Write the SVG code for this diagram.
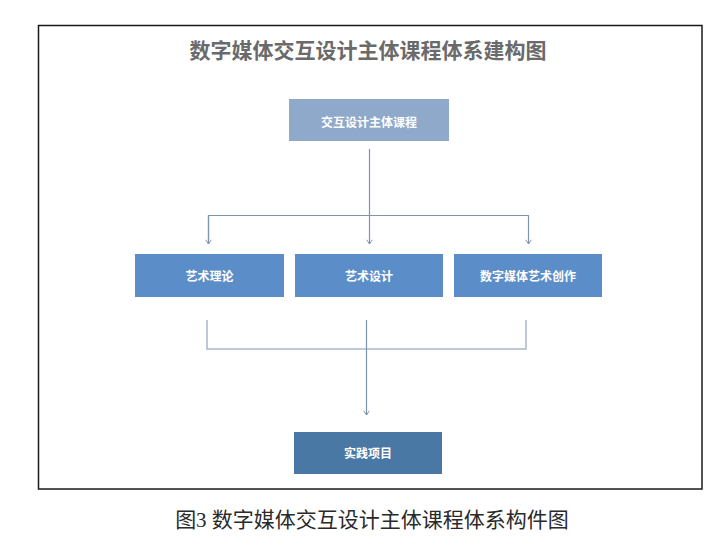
<svg xmlns="http://www.w3.org/2000/svg" width="724" height="547" viewBox="0 0 724 547">
<style>
.box-text{font-family:"Noto Sans CJK SC","Liberation Sans",sans-serif;font-size:12px;font-weight:bold;fill:#ffffff;text-anchor:middle}
.title{font-family:"Noto Sans CJK SC","Liberation Sans",sans-serif;font-size:21px;font-weight:bold;fill:#6a6a6a;text-anchor:middle}
.caption{font-family:"Liberation Serif","Noto Sans CJK SC",serif;font-size:21px;fill:#2a2a2a;text-anchor:middle}
.conn{fill:none;stroke:#7f93b2;stroke-width:1.2}
.conn-light{fill:none;stroke:#a9b7cb;stroke-width:1.5}
</style>
<defs>
<marker id="arr" viewBox="0 0 10 10" refX="9" refY="5" markerWidth="7" markerHeight="7" orient="auto" markerUnits="userSpaceOnUse">
<path d="M3,1 L9,5 L3,9" fill="none" stroke="#7f93b2" stroke-width="1.4"/>
</marker>
</defs>
<rect x="0" y="0" width="724" height="547" fill="#ffffff"/>
<rect x="38.5" y="25.5" width="663.5" height="463.5" fill="#ffffff" stroke="#1a1a1a" stroke-width="1.5"/>
<text class="title" x="368" y="58">数字媒体交互设计主体课程体系建构图</text>

<g id="connectors">
<path class="conn" d="M369.5,149 V244" marker-end="url(#arr)"/>
<path class="conn" d="M208.5,244 V215.5 H528.5 V244" marker-end="url(#arr)"/>
<path class="conn" d="M208.5,215.5 V244" marker-end="url(#arr)"/>
<path class="conn-light" d="M207,320 V349 H526 V320"/>
<path class="conn" d="M366.5,320 V415" marker-end="url(#arr)"/>
</g>

<g id="node-top">
<rect x="289" y="99" width="160" height="42" fill="#8fa9ca"/>
<text class="box-text" x="369" y="127">交互设计主体课程</text>
</g>
<g id="node-theory">
<rect x="135" y="254" width="149" height="43" fill="#5b8ec9"/>
<text class="box-text" x="209.5" y="281">艺术理论</text>
</g>
<g id="node-design">
<rect x="295" y="254" width="148" height="43" fill="#5b8ec9"/>
<text class="box-text" x="369" y="281">艺术设计</text>
</g>
<g id="node-creation">
<rect x="454" y="254" width="148" height="43" fill="#5b8ec9"/>
<text class="box-text" x="528" y="281">数字媒体艺术创作</text>
</g>
<g id="node-practice">
<rect x="294" y="432" width="148" height="42" fill="#4a78a5"/>
<text class="box-text" x="368" y="458">实践项目</text>
</g>

<text class="caption" x="372" y="527">图3 数字媒体交互设计主体课程体系构件图</text>
</svg>
